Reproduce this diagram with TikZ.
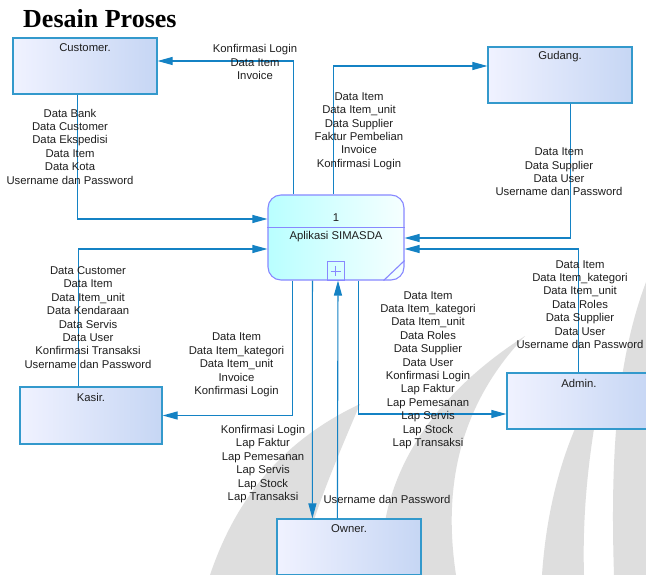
\documentclass[tikz,border=0pt]{standalone}
\usepackage{fontspec}
\setmainfont{Liberation Sans}
\newfontfamily\titlefont{Liberation Serif}
\usetikzlibrary{arrows.meta}

\definecolor{flowblue}{RGB}{20,130,196}
\definecolor{boxedge}{RGB}{51,153,204}
\definecolor{boxleft}{RGB}{240,242,255}
\definecolor{boxright}{RGB}{198,214,244}
\definecolor{procedge}{RGB}{136,136,255}
\definecolor{procleft}{RGB}{185,255,255}
\definecolor{procright}{RGB}{246,255,255}
\definecolor{inkgray}{RGB}{30,30,30}
\definecolor{markgray}{RGB}{222,222,222}

\newcommand{\labfont}{\fontsize{11.3}{13.4}\selectfont}

\tikzset{
  entity/.style={draw=boxedge, line width=1.2pt, left color=boxleft, right color=boxright,
    minimum width=144pt, minimum height=56pt, inner sep=0pt},
  procbox/.style={draw=procedge, line width=1.1pt, rounded corners=13pt,
    left color=procleft, right color=procright,
    minimum width=136pt, minimum height=85pt, inner sep=0pt},
  procline/.style={draw=procedge, line width=1.1pt},
  flow/.style={draw=flowblue, line width=1.1pt, -{Triangle[length=15pt,width=8pt]}},
  lab/.style={font=\labfont, text=inkgray, align=center, inner sep=0pt},
  boxname/.style={font=\labfont, text=inkgray, inner sep=0pt}
}

\begin{document}
\begin{tikzpicture}[x=1pt, y=-1pt]
\useasboundingbox (0,0) rectangle (646,575);
\fill[white] (0,0) rectangle (646,575);

% faint background emblem
\begin{scope}
\clip (0,0) rectangle (646,575);
\fill[markgray] (210,575) .. controls (238,492) and (288,438) .. (360,404)
  .. controls (338,456) and (312,515) .. (298,575) -- cycle;
\fill[markgray] (382,575) .. controls (376,482) and (428,398) .. (525,336)
  .. controls (470,394) and (440,470) .. (456,575) -- cycle;
\fill[markgray] (542,575) .. controls (547,502) and (566,432) .. (604,374)
  .. controls (590,442) and (582,506) .. (584,575) -- cycle;
\fill[markgray] (614,575) .. controls (610,452) and (617,352) .. (650,272)
  -- (650,575) -- cycle;
\end{scope}

% title
\node[font=\titlefont\bfseries\fontsize{26}{30}\selectfont, anchor=base west, inner sep=0pt] (title) at (23,28) {Desain Proses};

% external entities
\node[entity] (cust) at (85,66) {};
\node[boxname] (custname) at (85,48) {Customer.};
\node[entity] (gud) at (560,75) {};
\node[boxname] (gudname) at (560,57) {Gudang.};
\node[entity, minimum width=142pt, minimum height=57pt] (kas) at (91,415.5) {};
\node[boxname] (kasname) at (91,397) {Kasir.};
\node[entity] (adm) at (579,401) {};
\node[boxname] (admname) at (579,383) {Admin.};
\node[entity] (own) at (349,547) {};
\node[boxname] (ownname) at (349,529) {Owner.};

% process
\node[procbox] (proc) at (336,237.5) {};
\draw[procline] ([yshift=-33pt]proc.north west) -- ([yshift=-33pt]proc.north east);
\node[boxname] (procnum) at (336,218) {1};
\node[boxname] (procname) at (336,237) {Aplikasi SIMASDA};
\node[draw=procedge, line width=1pt, minimum width=17pt, minimum height=18pt, inner sep=0pt] (plus) at (335.5,271) {};
\draw[procline, line width=0.9pt] ([yshift=5pt]plus.center) -- ([yshift=-5pt]plus.center)
  ([xshift=-5pt]plus.center) -- ([xshift=5pt]plus.center);
\draw[procline] ([xshift=-21pt]proc.south east) -- ([yshift=20pt]proc.south east);

% data flows
\draw[flow] ([xshift=26pt]proc.north west) |- ([yshift=5pt]cust.east);
\draw[flow] ([xshift=65pt]cust.south west) |- ([yshift=18.5pt]proc.west);
\draw[flow] ([xshift=66pt]proc.north west) |- ([yshift=9pt]gud.west);
\draw[flow] ([xshift=83pt]gud.south west) |- ([yshift=-0.5pt]proc.east);
\draw[flow] ([xshift=72pt]adm.north west) |- ([yshift=-11.5pt]proc.east);
\draw[flow] ([xshift=91pt]proc.south west) |- ([yshift=-13pt]adm.west);
\draw[flow] ([xshift=59pt]kas.north west) |- ([yshift=-11.5pt]proc.west);
\draw[flow] ([xshift=25pt]proc.south west) |- (kas.east);
\draw[flow] ([xshift=45pt]proc.south west) -- ([xshift=36pt]own.north west);
\draw[flow] ([xshift=61pt]own.north west) -- ([xshift=2pt]proc.south);

% flow labels
\node[lab] (l1) at (255,62) {Konfirmasi Login\\Data Item\\Invoice};
\node[lab] (l2) at (70,146.5) {Data Bank\\Data Customer\\Data Ekspedisi\\Data Item\\Data Kota\\Username dan Password};
\node[lab] (l3) at (359,131) {Data Item\\Data Item\_unit\\Data Supplier\\Faktur Pembelian\\Invoice\\Konfirmasi Login};
\node[lab] (l4) at (559,172) {Data Item\\Data Supplier\\Data User\\Username dan Password};
\node[lab] (l5) at (580,304.5) {Data Item\\Data Item\_kategori\\Data Item\_unit\\Data Roles\\Data Supplier\\Data User\\Username dan Password};
\node[lab] (l6) at (428,370) {Data Item\\Data Item\_kategori\\Data Item\_unit\\Data Roles\\Data Supplier\\Data User\\Konfirmasi Login\\Lap Faktur\\Lap Pemesanan\\Lap Servis\\Lap Stock\\Lap Transaksi};
\node[lab] (l7) at (88,317.5) {Data Customer\\Data Item\\Data Item\_unit\\Data Kendaraan\\Data Servis\\Data User\\Konfirmasi Transaksi\\Username dan Password};
\node[lab] (l8) at (236.5,365) {Data Item\\Data Item\_kategori\\Data Item\_unit\\Invoice\\Konfirmasi Login};
\node[lab] (l9) at (263,464) {Konfirmasi Login\\Lap Faktur\\Lap Pemesanan\\Lap Servis\\Lap Stock\\Lap Transaksi};
\node[lab] (l10) at (387,499) {Username dan Password};
\end{tikzpicture}
\end{document}
